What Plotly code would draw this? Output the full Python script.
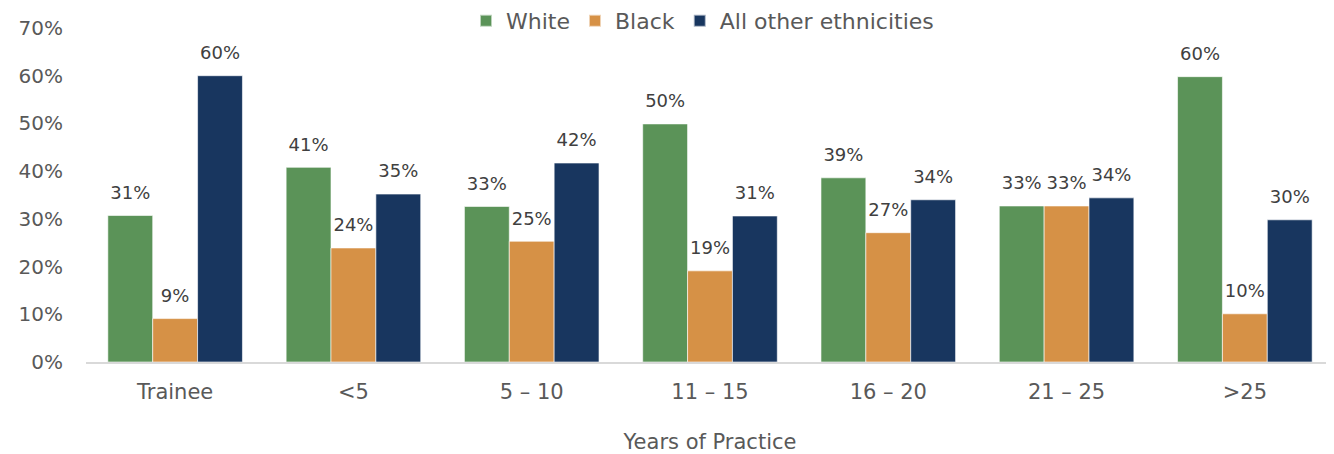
import plotly.graph_objects as go

categories = ["Trainee", "<5", "5 – 10", "11 – 15", "16 – 20", "21 – 25", ">25"]
white = [0.307, 0.408, 0.326, 0.499, 0.386, 0.327, 0.598]
black = [0.091, 0.239, 0.253, 0.191, 0.271, 0.327, 0.101]
other = [0.600, 0.352, 0.417, 0.306, 0.340, 0.344, 0.298]
series_names = ["White", "Black", "All other ethnicities"]
colors = ["#5B9358", "#D69146", "#18365F"]

FONT = "DejaVu Sans"
fig = go.Figure()
for name, vals, col in zip(series_names, [white, black, other], colors):
    fig.add_trace(go.Bar(
        x=categories, y=vals, name=name,
        marker=dict(color=col, line=dict(color="rgba(255,255,255,0.6)", width=1)),
        texttemplate="<span style='font-size:18px'>%{y:.0%}</span><br><span style='color:rgba(0,0,0,0)'>.</span>",
        textposition="outside",
        textfont=dict(family=FONT, size=9, color="#404040"),
        cliponaxis=False,
    ))

fig.update_layout(
    width=1326, height=446,
    margin=dict(l=78, r=0, t=20, b=92, autoexpand=False),
    barmode="group", bargap=0.245, bargroupgap=0,
    plot_bgcolor="white", paper_bgcolor="white",
    font=dict(family=FONT, size=20, color="#595959"),
    showlegend=True,
    legend=dict(orientation="h", x=0.494, xanchor="center", xref="paper",
                y=1.084, yanchor="top", font=dict(size=22, color="#595959"),
                itemsizing="constant"),
    xaxis=dict(showline=True, linecolor="#D9D9D9", linewidth=2, ticks="",
               tickfont=dict(size=21, color="#595959"), ticklabelstandoff=10,
               title=dict(text="Years of Practice", font=dict(size=21, color="#595959"), standoff=32)),
    yaxis=dict(range=[0, 0.7], dtick=0.1, tickformat=".0%", showgrid=False,
               zeroline=False, ticks="", tickfont=dict(size=20, color="#595959"),
               ticklabelstandoff=22),
)

fig.write_html("out.html")
